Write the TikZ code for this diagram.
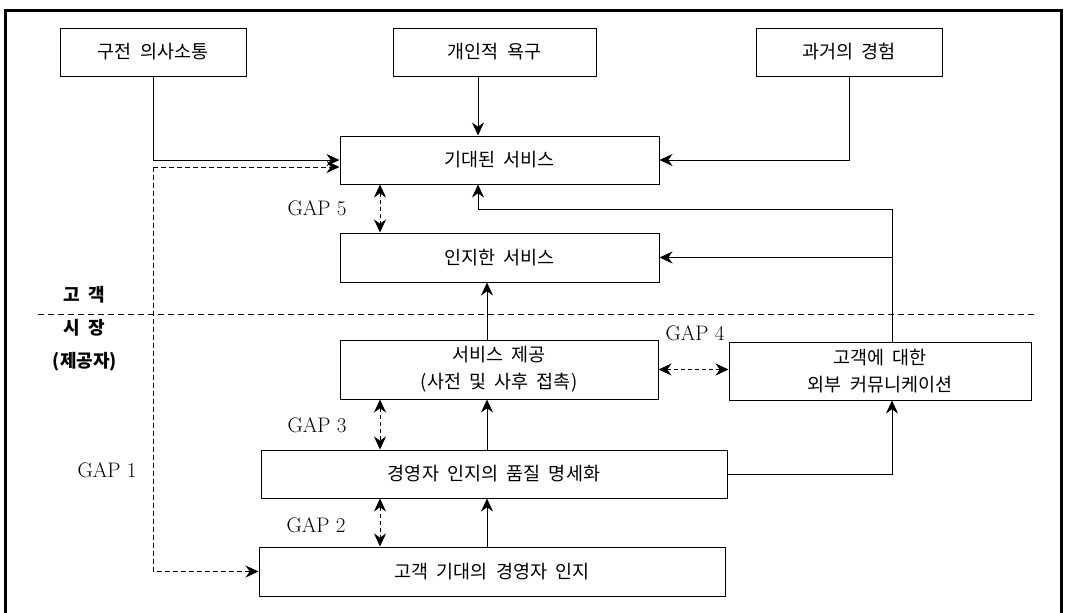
\documentclass[tikz,border=0pt]{standalone}
\usepackage{fontspec}
\newfontfamily\kr[WordSpace=2]{Noto Sans CJK KR}
\usetikzlibrary{arrows.meta}

\begin{document}
\begin{tikzpicture}[x=1pt,y=-1pt,line width=1pt,>={Stealth[length=13pt,width=12pt]}]
	\tikzset{box/.style={draw, rectangle, inner sep=0pt, align=center, font=\kr\fontsize{18.5}{27}\selectfont}}
	\tikzset{gaplabel/.style={font=\fontsize{21}{21}\selectfont}}
	\tikzset{sidelabel/.style={font=\kr\bfseries\fontsize{18}{20}\selectfont}}
	\tikzset{gapline/.style={dash pattern=on 4pt off 3pt}}
	\tikzset{wordline/.style={dash pattern=on 5pt off 3pt}}
	\useasboundingbox (0,0) rectangle (1079,613);

	%---FRAME---
	\draw[line width=3pt] (5.5,613) -- (5.5,10) -- (1061,10) -- (1061,613);
	\draw[dash pattern=on 6pt off 4pt] (38,314) -- (1037,314);

	%---NODES---
	\node[box, minimum width=186pt, minimum height=48pt] (wom) at (153,52) {구전 의사소통};
	\node[box, minimum width=203pt, minimum height=48pt] (need) at (494.5,52) {개인적 욕구};
	\node[box, minimum width=186pt, minimum height=48pt] (past) at (849,52) {과거의 경험};

	\node[box, minimum width=319pt, minimum height=48pt] (expected) at (499.5,160) {기대된 서비스};
	\node[box, minimum width=319pt, minimum height=49pt] (perceived) at (499.5,257.5) {인지한 서비스};

	\node[box, minimum width=318pt, minimum height=59pt] (delivery) at (499,369.5) {서비스 제공\\(사전 및 사후 접촉)};
	\node[box, minimum width=302pt, minimum height=58pt] (extcom) at (880,371) {고객에 대한\\외부 커뮤니케이션};

	\node[box, minimum width=466pt, minimum height=48pt] (spec) at (494,474) {경영자 인지의 품질 명세화};
	\node[box, minimum width=466pt, minimum height=49pt] (mgmt) at (492,571.5) {고객 기대의 경영자 인지};

	\coordinate (midx) at (478,0);
	\coordinate (upx) at (487,0);
	\coordinate (gapx) at (380,0);
	\coordinate (fbx) at (892,0);
	\coordinate (fb) at (892,209);
	\coordinate (split) at (153,167);

	%---EDGES---
	\draw[->] (wom.south) |- (expected.west);
	\draw[->,wordline] (split) -- (split -| expected.west);
	\draw[->,wordline] (split) |- (mgmt.west);
	\draw[->] (need.south -| midx) -- (expected.north -| midx);
	\draw[->] (past.south) |- (expected.east);

	\draw[<->,gapline] (expected.south -| gapx) -- (perceived.north -| gapx);
	\draw[->] (extcom.north -| fbx) -- (fb) -| (expected.south -| midx);
	\draw[->] (perceived.east -| fbx) -- (perceived.east);
	\draw[->] (delivery.north -| upx) -- (perceived.south -| upx);

	\draw[<->,gapline] (delivery.east) -- (delivery.east -| extcom.west);
	\draw[<->,gapline] (delivery.south -| gapx) -- (spec.north -| gapx);
	\draw[->] (spec.north -| upx) -- (delivery.south -| upx);
	\draw[->] (spec.east) -| (extcom.south -| fbx);

	\draw[<->,gapline] (spec.south -| gapx) -- (mgmt.north -| gapx);
	\draw[->] (mgmt.north -| upx) -- (spec.south -| upx);

	%---LABELS---
	\node[gaplabel] (gap5) at (317,208) {GAP 5};
	\node[gaplabel] (gap4) at (695,333) {GAP 4};
	\node[gaplabel] (gap3) at (317,425) {GAP 3};
	\node[gaplabel] (gap2) at (316,525) {GAP 2};
	\node[gaplabel] (gap1) at (107,470) {GAP 1};

	\node[sidelabel] (cust) at (84,295) {고 객};
	\node[sidelabel] (mkt) at (84,328) {시 장};
	\node[sidelabel] (prov) at (85,362) {(제공자)};

\end{tikzpicture}
\end{document}
